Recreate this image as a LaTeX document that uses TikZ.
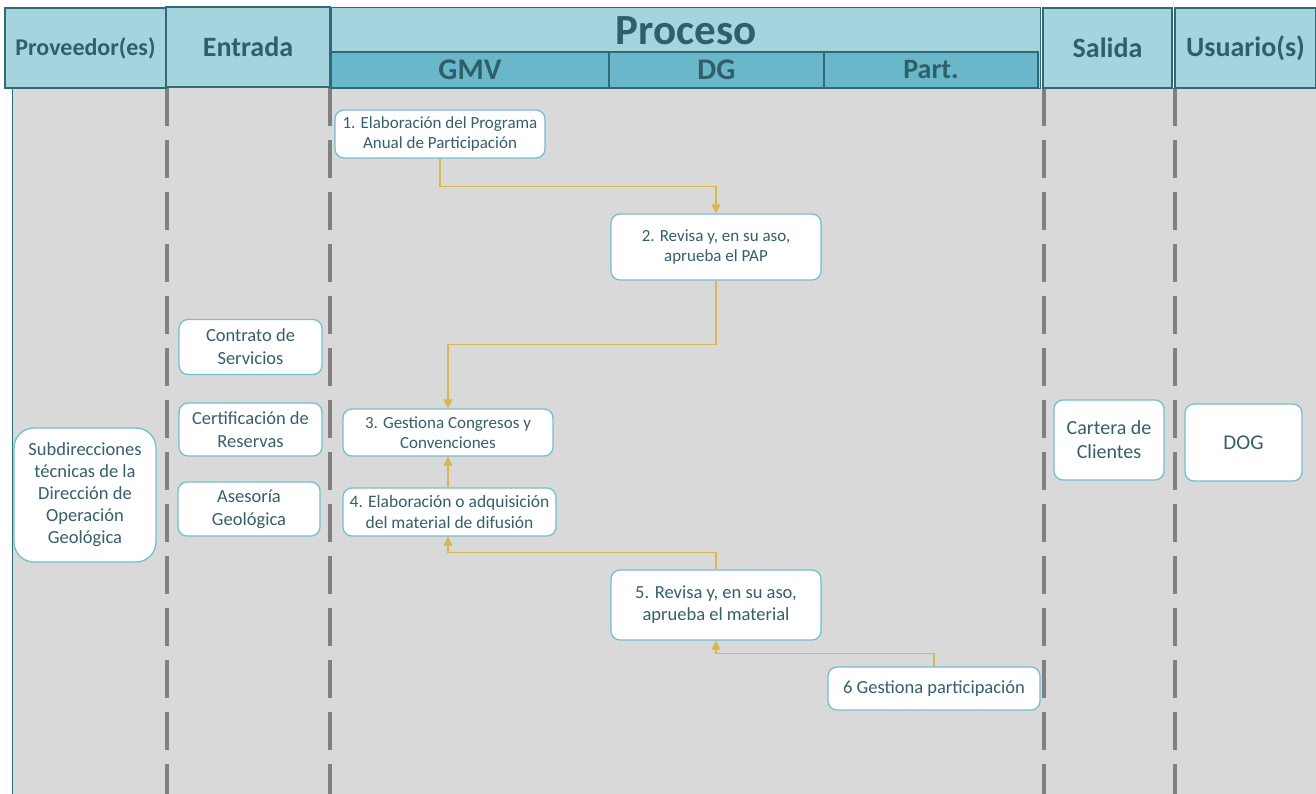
\documentclass[tikz,border=0pt]{standalone}
\usepackage{fontspec}
\setmainfont{Carlito}
\usetikzlibrary{arrows.meta}
\definecolor{headfill}{HTML}{A5D3DE}
\definecolor{subfill}{HTML}{6AB7CB}
\definecolor{headline}{HTML}{2F6B75}
\definecolor{headtext}{HTML}{2E6069}
\definecolor{boxline}{HTML}{72BFD0}
\definecolor{boxtext}{HTML}{355F69}
\definecolor{flow}{HTML}{D6B84E}
\definecolor{lanegray}{HTML}{D9D9D9}
\definecolor{dashgray}{HTML}{808080}
\tikzset{
  head/.style={draw=headline,line width=1.3pt,fill=headfill,text=headtext,inner sep=0pt,
    font=\bfseries\fontsize{28}{30}\selectfont},
  subhead/.style={head,fill=subfill,font=\bfseries\fontsize{30}{32}\selectfont},
  box/.style={draw=boxline,line width=1.3pt,fill=white,rounded corners=9pt,text=boxtext,
    align=center,inner sep=0pt,font=\fontsize{17}{20.5}\selectfont},
  flow/.style={draw=flow,line width=1.3pt,-{Triangle[length=9pt,width=9pt]}},
  lane/.style={draw=dashgray,line width=4.5pt,dash pattern=on 38pt off 14pt}
}
\begin{document}
\begin{tikzpicture}[x=1pt,y=-1pt]
  \useasboundingbox (0,0) rectangle (1316,794);
  \fill [lanegray] (12,88) rectangle (1316,794);
  \draw [headline,line width=1pt] (12,88) -- (12,794);
  \foreach \x in {167,330,1044,1175} \draw [lane] (\x,88) -- (\x,794);

  \node [head,minimum width=161,minimum height=80,font=\bfseries\fontsize{24}{26}\selectfont] (prov) at (85.5,48) {Proveedor(es)};
  \node [head,minimum width=164,minimum height=80] (ent) at (248,47) {Entrada};
  \node [head,minimum width=709,minimum height=81,anchor=north west] (proc) at (331,7) {};
  \node [headtext,font=\bfseries\fontsize{43}{44}\selectfont] (proct) at (686,31) {Proceso};
  \node [subhead,minimum width=278,minimum height=36] (gmv) at (470,70) {GMV};
  \node [subhead,minimum width=215,minimum height=36] (dg) at (716.5,70) {DG};
  \node [subhead,minimum width=214,minimum height=36,font=\bfseries\fontsize{28}{30}\selectfont] (part) at (931,70) {Part.};
  \node [head,minimum width=129,minimum height=80] (sal) at (1107.5,48) {Salida};
  \node [head,minimum width=141,minimum height=80] (usu) at (1245.5,48) {Usuario(s)};

  \node [box,minimum width=142,minimum height=134,rounded corners=20pt,font=\fontsize{18.5}{22}\selectfont]
    (S) at (85,495) {Subdirecciones\\técnicas de la\\Dirección de\\Operación\\Geológica};
  \node [box,minimum width=143,minimum height=55,font=\fontsize{18.5}{23}\selectfont] (E1) at (250.5,347) {Contrato de\\Servicios};
  \node [box,minimum width=143,minimum height=53,font=\fontsize{18.5}{23}\selectfont] (E2) at (250.5,429.5) {Certificación de\\Reservas};
  \node [box,minimum width=142,minimum height=54,font=\fontsize{18.5}{23}\selectfont] (E3) at (249,509) {Asesoría\\Geológica};

  \node [box,minimum width=210,minimum height=48] (P1) at (440,134) {1. Elaboración del Programa\\Anual de Participación};
  \node [box,minimum width=210,minimum height=66] (P2) at (716,247) {2. Revisa y, en su aso,\\aprueba el PAP};
  \node [box,minimum width=210,minimum height=47] (P3) at (448,432.5) {3. Gestiona Congresos y\\Convenciones};
  \node [box,minimum width=213,minimum height=48,font=\fontsize{17.5}{21}\selectfont] (P4) at (449.5,512) {4. Elaboración o adquisición\\del material de difusión};
  \node [box,minimum width=210,minimum height=70,font=\fontsize{18.5}{22}\selectfont] (P5) at (716,605) {5. Revisa y, en su aso,\\aprueba el material};
  \node [box,minimum width=212,minimum height=43,font=\fontsize{18.5}{22}\selectfont] (P6) at (934,688.5) {6 Gestiona participación};

  \node [box,minimum width=110,minimum height=80,font=\fontsize{20}{24}\selectfont] (O1) at (1109,440) {Cartera de\\Clientes};
  \node [box,minimum width=117,minimum height=77,font=\fontsize{21}{24}\selectfont] (U1) at (1243.5,442.5) {DOG};

  \draw [flow] (P1.south) -- ++(0,28) -| (P2.north);
  \draw [flow] (P2.south) -- ++(0,64) -| (P3.north);
  \draw [flow] (P4.north -| P3.south) -- (P3.south);
  \draw [flow] (P5.north) -- ++(0,-17) -| (P4.south -| P3.south);
  \draw [flow] (P6.north) -- ++(0,-13) -| (P5.south);
\end{tikzpicture}
\end{document}
